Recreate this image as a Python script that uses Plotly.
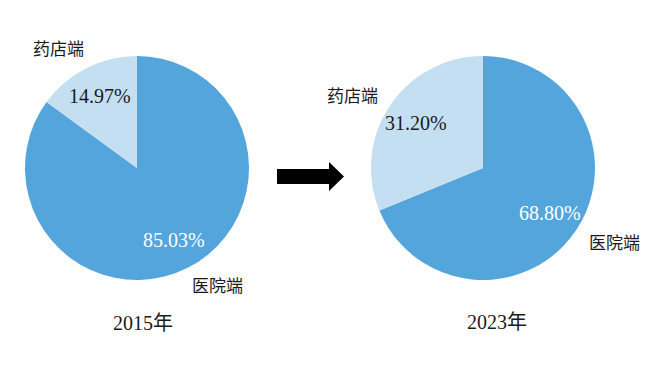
import math
import plotly.graph_objects as go

W, H = 667, 370

categories = ["药店端", "医院端"]
values_2015 = [14.97, 85.03]
values_2023 = [31.20, 68.80]
years = ["2015年", "2023年"]
colors = ["#C5DFF2", "#55A5DD"]
pct_colors = ["#1a1a1a", "#ffffff"]

# pie domains in pixels: (x0, x1, ytop, ybottom)
domains_px = [(25, 249, 56, 280), (371, 595, 56, 280)]

FONT = "Liberation Serif, Times New Roman, Noto Sans CJK SC, serif"

fig = go.Figure()
annotations = []

for vals, (x0, x1, yt, yb), yr in zip([values_2015, values_2023], domains_px, years):
    # hospital slice drawn first clockwise from 12 o'clock; pharmacy ends at 12 o'clock
    fig.add_trace(go.Pie(
        labels=categories[::-1], values=vals[::-1], sort=False, direction="clockwise",
        rotation=0, marker=dict(colors=colors[::-1], line=dict(width=0)),
        textinfo="none", hoverinfo="label+percent", showlegend=False,
        domain=dict(x=[x0 / W, x1 / W], y=[1 - yb / H, 1 - yt / H]),
    ))
    cx, cy, R = (x0 + x1) / 2, (yt + yb) / 2, (x1 - x0) / 2
    total = sum(vals)
    start = 0.0
    for i, v in enumerate(vals):
        mid = (start + v / 2) / total * 2 * math.pi
        start += v
        px = cx - 0.72 * R * math.sin(mid)
        py = cy - 0.72 * R * math.cos(mid)
        annotations.append(dict(
            x=px / W, y=1 - py / H, xref="paper", yref="paper",
            xanchor="center", yanchor="middle",
            text=f"{v:.2f}%", showarrow=False,
            font=dict(family=FONT, size=20, color=pct_colors[i]),
        ))

# category labels outside slices
label_pos = [(58, 47, "药店端"), (217, 284, "医院端"), (352, 94, "药店端"), (614, 241, "医院端")]
for x, y, t in label_pos:
    annotations.append(dict(x=x / W, y=1 - y / H, xref="paper", yref="paper", text=t,
                            xanchor="center", yanchor="middle",
                            showarrow=False, font=dict(family="Noto Sans CJK SC", size=17, color="#1a1a1a")))

year_pos = [(143, 323), (497, 322)]
for (x, y), t in zip(year_pos, years):
    annotations.append(dict(x=x / W, y=1 - y / H, xref="paper", yref="paper", text=t,
                            xanchor="center", yanchor="middle",
                            showarrow=False, font=dict(family=FONT, size=20, color="#1a1a1a")))

# arrow shape (pixel path converted to paper coords)
pts = [(277, 169), (329, 169), (329, 162), (344, 176.5), (329, 191), (329, 184), (277, 184)]
path = "M " + " L ".join(f"{x / W:.5f},{1 - y / H:.5f}" for x, y in pts) + " Z"

fig.update_layout(
    width=W, height=H, margin=dict(l=0, r=0, t=0, b=0),
    paper_bgcolor="white", plot_bgcolor="white",
    annotations=annotations,
    shapes=[dict(type="path", path=path, xref="paper", yref="paper",
                 fillcolor="black", line=dict(width=0))],
)

fig.write_html("out.html")
